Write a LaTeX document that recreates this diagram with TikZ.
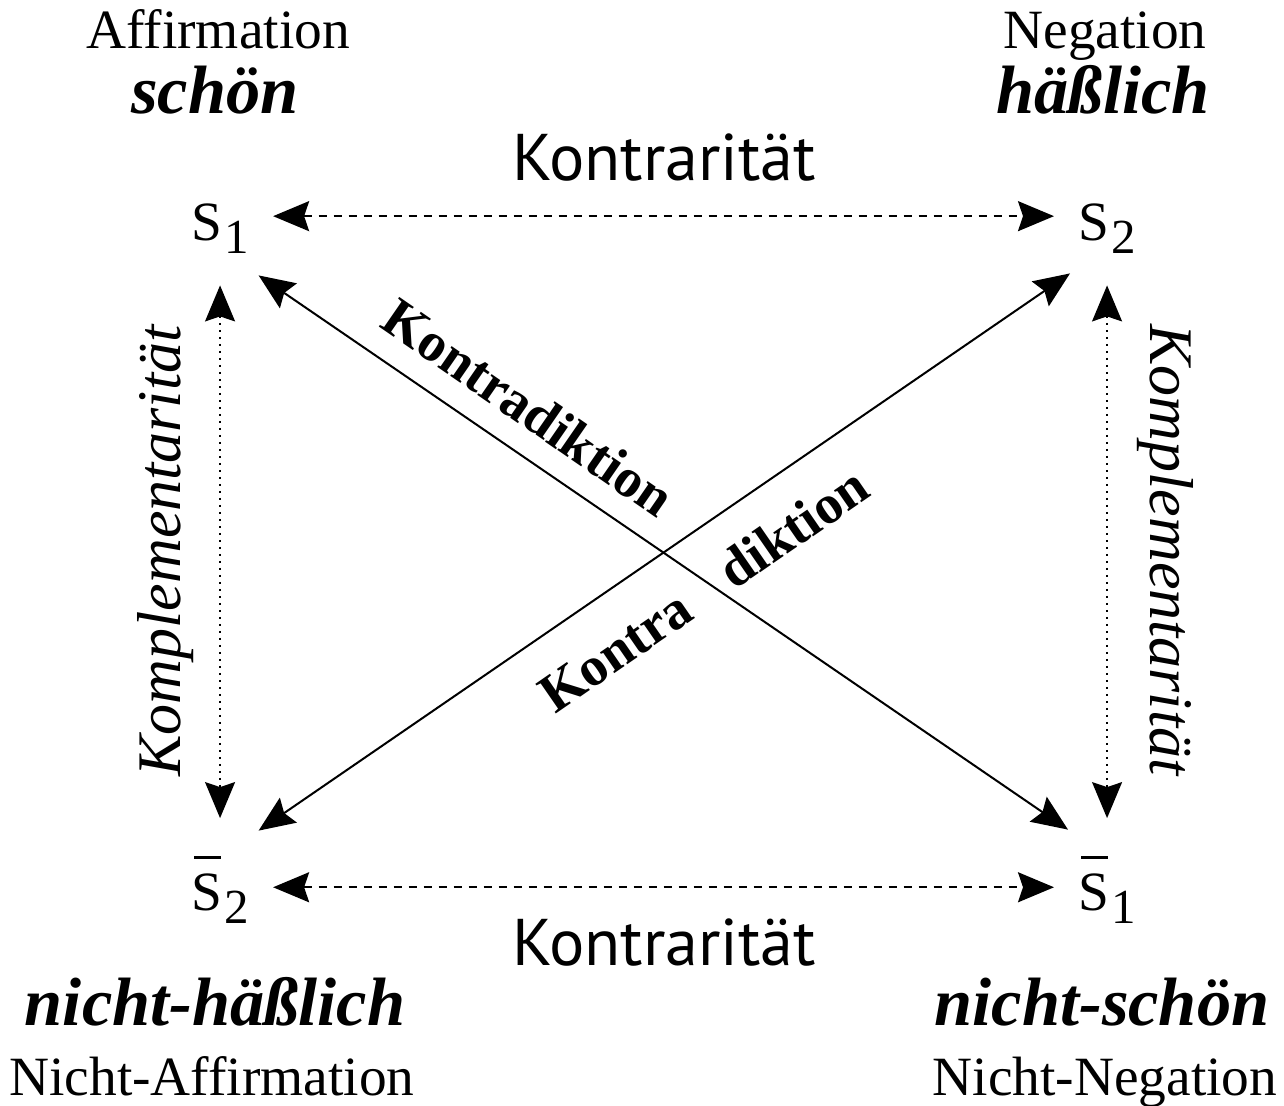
\documentclass[tikz,border=0pt]{standalone}
\usepackage{fontspec}
\setmainfont{Liberation Serif}
\newfontfamily\relfont{PT Sans}
\usetikzlibrary{arrows.meta}

% index and bar of the poles
\newcommand\poleidx[1]{\kern1pt\raisebox{-6.5pt}{\fontsize{24.5pt}{24.5pt}\selectfont #1}}
\newcommand\polebar{\rlap{\kern1.5pt\raisebox{25.75pt}{\rule{13.5pt}{1.5pt}}}}

\begin{document}
\begin{tikzpicture}[x=0.5pt,y=0.5pt,
    >={Stealth[length=18pt,width=15pt,inset=2.5pt]}]
    \tikzstyle{every node}+=[inner sep=0pt]
    \tikzstyle{pole}=[anchor=base west,font=\fontsize{27.7pt}{30pt}\selectfont]
    \tikzstyle{term}=[anchor=base,font=\fontsize{27.7pt}{30pt}\selectfont]
    \tikzstyle{word}=[anchor=base,font=\fontsize{34.2pt}{36pt}\selectfont\bfseries\itshape]
    \tikzstyle{rel}=[anchor=base,font=\fontsize{33pt}{35pt}\selectfont\relfont]
    \tikzstyle{compl}=[anchor=base,font=\fontsize{31pt}{33pt}\selectfont\itshape]
    \tikzstyle{contra}=[anchor=base,font=\fontsize{27.5pt}{30pt}\selectfont\bfseries]
    \tikzstyle{contrary}=[<->,line width=1pt,dash pattern=on 4pt off 3.5pt,shorten <=12pt,shorten >=12pt]
    \tikzstyle{complement}=[<->,line width=0.8pt,dash pattern=on 0.8pt off 2.7pt,shorten <=16pt,shorten >=18.5pt]
    \tikzstyle{contradict}=[<->,line width=1pt]
    \useasboundingbox (0,0) rectangle (1284,-1105);
    % poles
    \node [pole] (s1) at (191,-240) {S\poleidx{1}};
    \node [pole] (s2) at (1078,-240) {S\poleidx{2}};
    \node [pole] (ns2) at (191,-910) {\polebar S\poleidx{2}};
    \node [pole] (ns1) at (1078,-910) {\polebar S\poleidx{1}};
    % words above and below
    \node [term] (aff) at (218,-48) {Affirmation};
    \node [word] (schoen) at (215,-113) {schön};
    \node [term] (neg) at (1105,-48) {Negation};
    \node [word] (haess) at (1103,-113) {häßlich};
    \node [word] (nhaess) at (215,-1025) {nicht-häßlich};
    \node [term] (naff) at (212,-1095) {Nicht-Affirmation};
    \node [word] (nschoen) at (1102,-1025) {nicht-schön};
    \node [term] (nneg) at (1105,-1095) {Nicht-Negation};
    % relations
    \node [rel] (ktop) at (664,-180) {Kontrarität};
    \node [rel] (kbot) at (664,-965) {Kontrarität};
    \node [compl,rotate=90] (kl) at (180,-551) {Komplementarität};
    \node [compl,rotate=-90] (kr) at (1150,-550) {Komplementarität};
    \node [contra,rotate=-34.6] (kd1) at (518,-423) {Kontradiktion};
    \node [contra,rotate=34.6] (kd2) at (714,-605) {Kontra\hspace{0.85em}diktion};
    % connectors
    \draw [contrary] ([yshift=6pt]s1.east) -- ([yshift=6pt]s2.west);
    \draw [contrary] ([yshift=1pt]ns2.east) -- ([yshift=1pt]ns1.west);
    \draw [complement] (s1.south) -- (ns2.north);
    \draw [complement] (s2.south) -- (ns1.north);
    \draw [contradict] ([xshift=4.75pt,yshift=-11pt]s1.south east) -- ([xshift=-5pt,yshift=12.75pt]ns1.north west);
    \draw [contradict] ([xshift=4.75pt,yshift=12.25pt]ns2.north east) -- ([xshift=-4pt,yshift=-10pt]s2.south west);
\end{tikzpicture}
\end{document}
